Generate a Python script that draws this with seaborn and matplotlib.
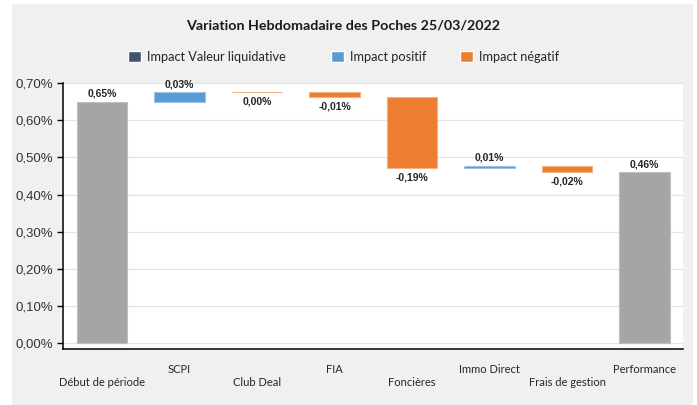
import matplotlib
matplotlib.use("Agg")
import matplotlib.pyplot as plt
import seaborn as sns
import pandas as pd
from matplotlib.patches import Patch, Rectangle
from matplotlib.ticker import FuncFormatter, MultipleLocator

# Data (variations in %, first and last are totals)
categories = ["Début de période", "SCPI", "Club Deal", "FIA", "Foncières",
              "Immo Direct", "Frais de gestion", "Performance"]
values = [0.650, 0.026, -0.0005, -0.013, -0.191, 0.006, -0.018, 0.4595]
kinds = ["total", "pos", "neg", "neg", "neg", "pos", "neg", "total"]

legend_labels = ["Impact Valeur liquidative", "Impact positif", "Impact négatif"]
legend_keys = ["vl", "pos", "neg"]
title = "Variation Hebdomadaire des Poches 25/03/2022"

fill = {"total": "#a5a5a5", "pos": "#5b9bd5", "neg": "#ed7d31", "vl": "#44546a"}
edge = {"total": "#bfbfbf", "pos": "#9dc3e6", "neg": "#f4b183"}


def fr_pct(v):
    s = f"{v:.2f}"
    if s == "-0.00":
        s = "0.00"
    return s.replace(".", ",") + "%"


# waterfall bottoms
bottoms = []
level = 0.0
for v, k in zip(values, kinds):
    if k == "total":
        bottoms.append(0.0)
        level = v
    else:
        bottoms.append(level)
        level += v

df = pd.DataFrame({"cat": categories, "value": values, "kind": kinds, "bottom": bottoms})

sns.set_theme(style="white")
plt.rcParams["font.family"] = ["Lato", "DejaVu Sans"]

fig = plt.figure(figsize=(6.97, 4.05), dpi=100)
fig.patches.append(Rectangle((12 / 697, 0), 681 / 697, 401 / 405, transform=fig.transFigure,
                             facecolor="#f0f0f0", edgecolor="none", zorder=-10))
ax = fig.add_axes([63.3 / 697, 1 - 349 / 405, 620 / 697, 266 / 405])
ax.set_facecolor("white")

sns.barplot(data=df, x="cat", y="value", hue="cat", palette=[fill[k] for k in kinds],
            saturation=1, width=0.65, legend=False, ax=ax, zorder=3)

for patch, b, k in zip(ax.patches, bottoms, kinds):
    patch.set_y(b)
    patch.set_edgecolor(edge[k])
    patch.set_linewidth(0.8)

# value labels
for i, (v, b, k) in enumerate(zip(values, bottoms, kinds)):
    if v >= 0 or k == "total":
        y, va, off = b + v, "bottom", 2
    else:
        y, va, off = b + v, "top", -3
    if k == "neg" and abs(v) < 0.001:
        y, va, off = b, "top", -3
    ax.annotate(fr_pct(v), (i, y), xytext=(0, off), textcoords="offset points",
                ha="center", va=va, fontsize=7.5, fontweight="bold",
                family=["Liberation Sans", "DejaVu Sans"], color="#262626")

ax.set_xlim(-0.5, len(categories) - 0.5)
ax.set_ylim(-0.015, 0.70)
ax.yaxis.set_major_locator(MultipleLocator(0.1))
ax.yaxis.set_major_formatter(FuncFormatter(lambda v, p: fr_pct(v)))
ax.grid(axis="y", color="#e3e3e3", linewidth=0.9, zorder=0)
ax.set_axisbelow(True)

ax.set_xticks(range(len(categories)))
ax.set_xticklabels([c if i % 2 else "\n" + c for i, c in enumerate(categories)])
ax.set_xticks([i - 0.5 for i in range(len(categories) + 1)], minor=True)
ax.tick_params(axis="x", which="major", length=0, pad=11, labelsize=8, labelcolor="#262626")
ax.tick_params(axis="x", which="minor", length=4, width=1, color="black", direction="out")
ax.tick_params(axis="y", length=4, width=1, color="black", direction="out", left=True,
               labelsize=9.5, labelcolor="#333333")
for lab in ax.get_yticklabels():
    lab.set_family(["Liberation Sans", "DejaVu Sans"])
ax.set_xlabel("")
ax.set_ylabel("")

for side in ["top", "right"]:
    ax.spines[side].set_visible(False)
for side in ["left", "bottom"]:
    ax.spines[side].set_color("black")
    ax.spines[side].set_linewidth(1.1)

fig.text(343 / 697, 1 - 26 / 405, title, ha="center", va="center", fontsize=10.3,
         fontweight="bold", color="#1a1a1a")

# legend entries, one per column as in the original layout
legend_x = [128, 331, 460]
for lx, lab, key in zip(legend_x, legend_labels, legend_keys):
    fig.legend([Patch(facecolor=fill[key])], [lab], loc="center left",
               bbox_to_anchor=(lx / 697, 1 - 57 / 405), frameon=False, fontsize=9.2,
               handlelength=1.0, handleheight=1.0, handletextpad=0.45,
               borderpad=0, borderaxespad=0)

fig.savefig("out.png", dpi=100, facecolor="white")
